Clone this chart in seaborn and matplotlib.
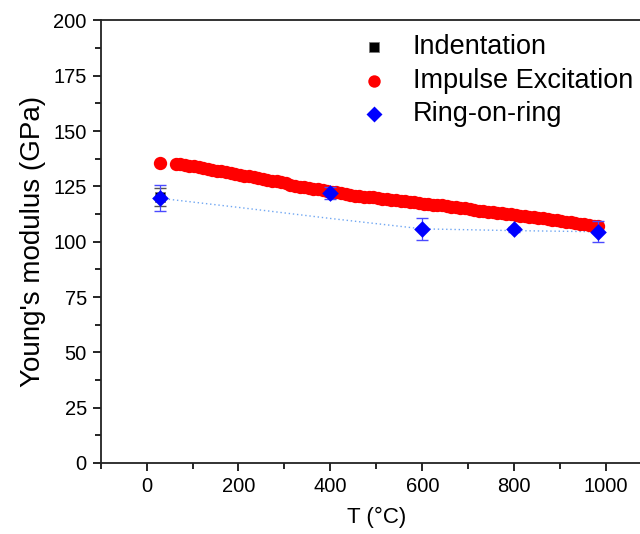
import numpy as np
import pandas as pd
import seaborn as sns
from matplotlib import pyplot as plt
from matplotlib.ticker import MultipleLocator

sns.set_style("ticks")
plt.rcParams['font.family'] = ['Liberation Sans', 'DejaVu Sans']
plt.rcParams['text.color'] = 'black'
plt.rcParams['axes.labelcolor'] = 'black'
plt.rcParams['xtick.color'] = 'black'
plt.rcParams['ytick.color'] = 'black'

# Impulse excitation (red dots)
ie_T = [30, 63, 73, 83, 93, 103, 113, 123, 133, 143, 153, 163, 173, 183, 193, 203, 213, 223, 233,
        243, 253, 263, 273, 283, 293, 303, 313, 323, 333, 343, 353, 363, 373, 383, 393, 403,
        413, 423, 433, 443, 453, 463, 473, 483, 493, 503, 513, 523, 533, 543, 553, 563, 573,
        583, 593, 603, 613, 623, 633, 643, 653, 663, 673, 683, 693, 703, 713, 723, 733, 743,
        753, 763, 773, 783, 793, 803, 813, 823, 833, 843, 853, 863, 873, 883, 893, 903, 913,
        923, 933, 943, 953, 963, 973, 983]
ie_E = [135.5, 135.3, 135.0, 134.6, 134.3, 134.0, 133.6, 133.2, 132.8, 132.5, 132.1, 131.8, 131.4,
        131.0, 130.6, 130.2, 129.8, 129.5, 129.1, 128.7, 128.3, 128.0, 127.6, 127.2, 126.8,
        126.3, 125.8, 125.2, 124.8, 124.5, 124.2, 123.9, 123.6, 123.3, 123.0, 122.6, 122.3,
        122.0, 121.6, 121.2, 120.8, 120.6, 120.4, 120.2, 120.0, 119.8, 119.5, 119.2, 119.0,
        118.8, 118.6, 118.4, 118.1, 117.8, 117.4, 117.2, 117.0, 116.8, 116.6, 116.4, 116.2,
        115.9, 115.6, 115.3, 115.0, 114.7, 114.3, 114.0, 113.7, 113.5, 113.2, 113.0, 112.8,
        112.5, 112.3, 112.0, 111.8, 111.5, 111.2, 111.0, 110.8, 110.5, 110.2, 109.9, 109.6,
        109.3, 109.0, 108.8, 108.5, 108.1, 107.8, 107.5, 107.2, 106.9]

# Indentation (black square)
ind_T = [30]
ind_E = [120.3]
ind_err = [4.0]

# Ring-on-ring (blue diamonds)
ror_T = [30, 400, 600, 800, 983]
ror_E = [119.8, 121.9, 105.6, 105.6, 104.6]
ror_err = [6.0, 2.8, 5.0, 1.0, 4.8]

# dotted guide line
fit_T = [30, 200, 400, 600, 800, 983]
fit_E = [119.6, 115.5, 110.5, 105.8, 105.0, 104.5]

fig = plt.figure(figsize=(6.4, 5.34), dpi=100)
ax = fig.add_axes([0.1573, 0.133, 0.8614, 0.8288])

ax.plot(fit_T, fit_E, linestyle=(0, (1, 2)), color='#6fa6f2', linewidth=1.0, zorder=1)

ax.errorbar(ind_T, ind_E, yerr=ind_err, fmt='none', ecolor='#555555', elinewidth=0.8, capsize=4, zorder=2)
sns.scatterplot(x=ind_T, y=ind_E, marker='s', color='black', s=60, edgecolor='#777777',
                linewidth=0.5, label='Indentation', ax=ax, zorder=3)

sns.scatterplot(x=ie_T, y=ie_E, marker='o', color='red', s=92, edgecolor='red', linewidth=0,
                label='Impulse Excitation', ax=ax, zorder=4)

ax.errorbar(ror_T, ror_E, yerr=ror_err, fmt='none', ecolor='#4a4aff', elinewidth=0.9, capsize=4, zorder=5)
sns.scatterplot(x=ror_T, y=ror_E, marker='D', color='blue', s=72, edgecolor='blue', linewidth=0,
                label='Ring-on-ring', ax=ax, zorder=6)

ax.set_xlim(-100, 1100)
ax.set_ylim(0, 200)
ax.xaxis.set_major_locator(MultipleLocator(200))
ax.xaxis.set_minor_locator(MultipleLocator(100))
ax.yaxis.set_major_locator(MultipleLocator(25))
ax.yaxis.set_minor_locator(MultipleLocator(12.5))
ax.tick_params(which='major', direction='out', length=6, width=1.2, labelsize=14.5, pad=4)
ax.tick_params(which='minor', direction='out', length=4, width=1.2)
for sp in ax.spines.values():
    sp.set_linewidth(1.3)
    sp.set_color('#222222')

ax.set_xlabel('T (°C)', fontsize=16, labelpad=8)
ax.set_ylabel("Young's modulus (GPa)", fontsize=20, labelpad=5)

leg = ax.legend(loc='upper left', bbox_to_anchor=(0.441, 1.0), frameon=False, fontsize=19.5,
                handletextpad=0.82, labelspacing=0.27, handlelength=1.2, borderaxespad=0.12)
leg.legend_handles[1].set_sizes([80])
leg.legend_handles[2].set_sizes([66])

plt.savefig("out.png", dpi=100)
